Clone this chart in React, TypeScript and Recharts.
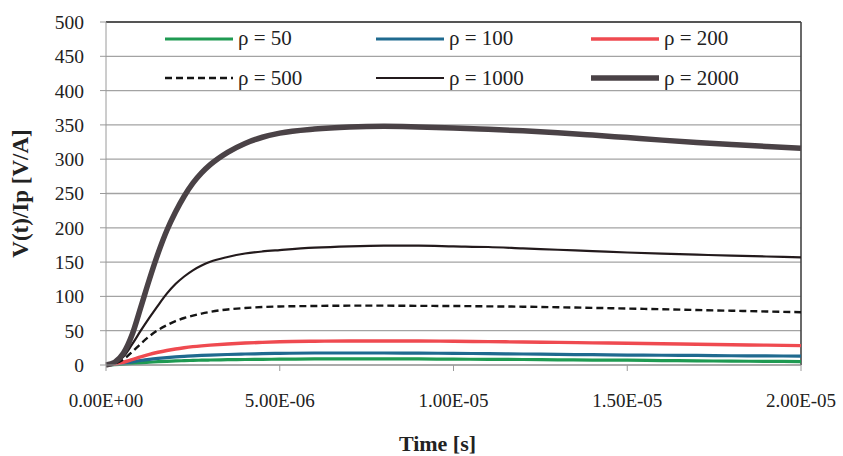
import React from "react";
import {
  LineChart,
  Line,
  XAxis,
  YAxis,
  CartesianGrid,
  ReferenceLine,
  Legend,
} from "recharts";

// time in microseconds
const timeUs = [
  0, 0.25, 0.5, 0.75, 1, 1.25, 1.5, 1.75, 2, 2.25, 2.5, 2.75, 3, 3.5, 4, 4.5, 5,
  6, 7, 8, 9, 10, 11, 12, 13, 14, 15, 16, 17, 18, 19, 20,
];

const rho50 = [
  0, 0.5, 1.2, 2.2, 3.2, 4, 4.8, 5.4, 5.9, 6.3, 6.7, 7, 7.3, 7.7, 8, 8.3, 8.5,
  8.8, 9, 9, 8.8, 8.5, 8.2, 8, 7.5, 7.2, 7, 6.5, 6, 5.7, 5.3, 5,
];
const rho100 = [
  0, 1, 2.5, 4.5, 6.5, 8.2, 9.6, 10.8, 11.8, 12.6, 13.3, 13.9, 14.4, 15.3, 16,
  16.5, 17, 17.5, 17.5, 17.5, 17.3, 17, 16.5, 16, 15.5, 15, 14.5, 14.2, 13.9,
  13.5, 13.2, 13,
];
const rho200 = [
  0, 1.5, 4, 7.8, 11.8, 15.5, 18.6, 21.2, 23.4, 25.2, 26.7, 27.9, 28.9, 30.6,
  32, 33, 33.8, 34.6, 35, 35, 35, 34.6, 34.1, 33.5, 33, 32.3, 31.6, 31, 30.3,
  29.6, 28.9, 28.2,
];
const rho500 = [
  0, 2, 8, 19, 31, 42, 51, 58, 64, 68.5, 72, 75, 77.5, 81, 83, 84.5, 85.3, 86,
  86.5, 86.5, 86.2, 86, 85.5, 85, 84.2, 83.3, 82.3, 81.3, 80.2, 79.1, 78, 77,
];
const rho1000 = [
  0, 3, 12, 30, 50, 69, 87, 104, 118, 129, 138, 145, 150.5, 157.5, 162.5, 165.5,
  167.5, 171, 173, 174, 174, 173, 172, 170, 168, 166, 164, 162.3, 160.8, 159.4,
  158.2, 157,
];
const rho2000 = [
  0, 4, 17, 44, 84, 125, 163, 196, 223, 246, 265, 280, 292, 310, 323, 332, 338,
  344, 347, 348, 347, 345.5, 343.5, 341.3, 338.6, 335.2, 331.5, 327.8, 324.5,
  321.5, 318.6, 315.8,
];

const xTicks = [0, 5, 10, 15, 20];
const xTickLabels = ["0.00E+00", "5.00E-06", "1.00E-05", "1.50E-05", "2.00E-05"];
const yTicks = [0, 50, 100, 150, 200, 250, 300, 350, 400, 450, 500];

const seriesNames = ["ρ = 50", "ρ = 100", "ρ = 200", "ρ = 500", "ρ = 1000", "ρ = 2000"];
const seriesValues = [rho50, rho100, rho200, rho500, rho1000, rho2000];

const seriesStyles = [
  { color: "#1f9a52", width: 3.2, dash: undefined as string | undefined },
  { color: "#1f6a8f", width: 3.2, dash: undefined },
  { color: "#ef4a50", width: 3.4, dash: undefined },
  { color: "#141414", width: 2.4, dash: "7 4" },
  { color: "#231a1c", width: 2.2, dash: undefined },
  { color: "#4a4246", width: 5.5, dash: undefined },
];

const keys = seriesNames.map((_, i) => `s${i}`);

const data = timeUs.map((t, i) => {
  const row: Record<string, number> = { t };
  seriesValues.forEach((arr, j) => {
    row[keys[j]] = arr[i];
  });
  return row;
});

const FONT = "Liberation Serif";

const LegendContent = () => (
  <div
    style={{
      display: "grid",
      gridTemplateColumns: "211px 215px 220px",
      gridAutoRows: "39.5px",
      fontFamily: FONT,
      fontSize: 21,
      color: "#222",
    }}
  >
    {seriesNames.map((name, i) => {
      const s = seriesStyles[i];
      return (
        <div key={name} style={{ display: "flex", alignItems: "center" }}>
          <svg width={68} height={10} style={{ display: "block" }}>
            <line
              x1={0}
              y1={5}
              x2={68}
              y2={5}
              stroke={s.color}
              strokeWidth={s.width}
              strokeDasharray={s.dash}
            />
          </svg>
          <span style={{ marginLeft: 5, whiteSpace: "nowrap" }}>{name}</span>
        </div>
      );
    })}
  </div>
);

export default function App() {
  return (
    <div style={{ position: "absolute", left: 0, top: 0, width: 843, height: 456, background: "#fff" }}>
      <LineChart
        width={843}
        height={456}
        data={data}
        margin={{ top: 22, right: 42, bottom: 31, left: 0 }}
      >
        <CartesianGrid vertical={false} stroke="#a3a3a3" strokeWidth={1.3} />
        <XAxis
          dataKey="t"
          type="number"
          domain={[0, 20]}
          ticks={xTicks}
          tickFormatter={(v: number) => xTickLabels[xTicks.indexOf(v)] ?? ""}
          height={60}
          tickSize={6}
          tickMargin={23}
          stroke="#9a9a9a"
          tick={{ fill: "#222", fontSize: 19, fontFamily: FONT }}
          label={{
            content: (props: any) => {
              const vb = props.viewBox || { x: 106, y: 365, width: 695, height: 60 };
              return (
                <text
                  x={vb.x + vb.width / 2 - 16}
                  y={vb.y + vb.height + 26}
                  textAnchor="middle"
                  fontFamily={FONT}
                  fontSize={22}
                  fontWeight="bold"
                  fill="#222"
                >
                  Time [s]
                </text>
              );
            },
          }}
        />
        <YAxis
          type="number"
          domain={[0, 500]}
          ticks={yTicks}
          width={106}
          tickSize={6}
          tickMargin={16}
          stroke="#9a9a9a"
          tick={{ fill: "#222", fontSize: 19.5, fontFamily: FONT }}
          label={{
            content: (props: any) => {
              const vb = props.viewBox || { x: 0, y: 22, width: 106, height: 343 };
              const cx = vb.x + 20;
              const cy = vb.y + vb.height / 2;
              return (
                <text
                  transform={`translate(${cx},${cy}) rotate(-90)`}
                  textAnchor="middle"
                  dominantBaseline="central"
                  fontFamily={FONT}
                  fontSize={23}
                  fontWeight="bold"
                  fill="#222"
                >
                  V(t)/Ip [V/A]
                </text>
              );
            },
          }}
        />
        <ReferenceLine y={500} stroke="#333" strokeWidth={1.6} />
        <ReferenceLine x={20} stroke="#444" strokeWidth={1.6} />
        <Legend
          layout="horizontal"
          verticalAlign="middle"
          align="center"
          content={<LegendContent />}
          wrapperStyle={{ position: "absolute", left: 165, top: 19, width: 650 }}
        />
        {keys.map((k, i) => (
          <Line
            key={k}
            dataKey={k}
            name={seriesNames[i]}
            type="monotone"
            stroke={seriesStyles[i].color}
            strokeWidth={seriesStyles[i].width}
            strokeDasharray={seriesStyles[i].dash}
            dot={false}
            activeDot={false}
            isAnimationActive={false}
          />
        ))}
      </LineChart>
    </div>
  );
}
